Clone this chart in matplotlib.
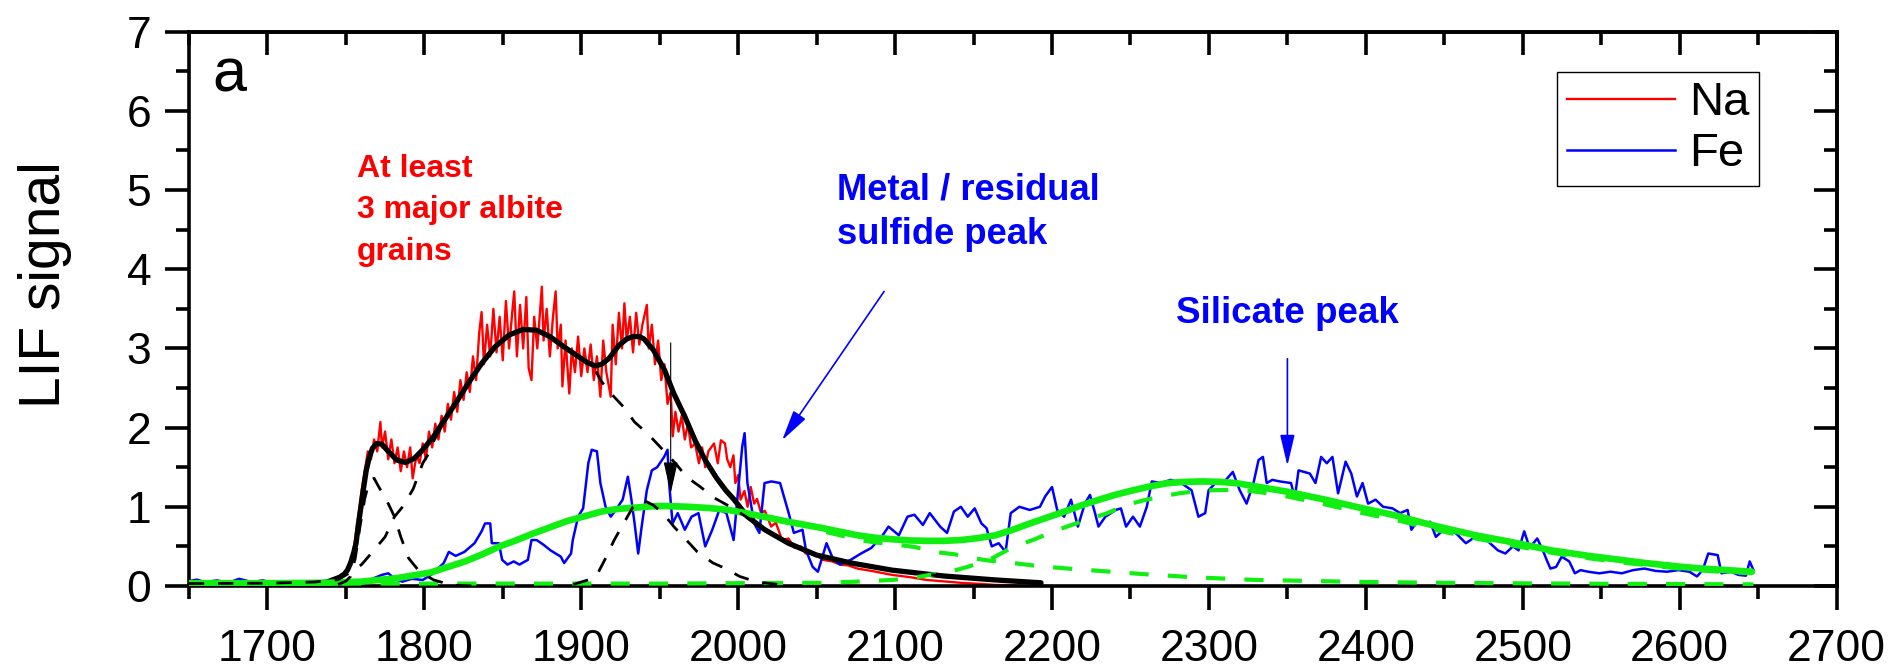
import matplotlib
matplotlib.use("Agg")
import matplotlib.pyplot as plt
from matplotlib.ticker import MultipleLocator

# ── measured traces ────────────────────────────────────────────────────────
na_x = [1650, 1670, 1690, 1710, 1720, 1730, 1738, 1744, 1748, 1751, 1754, 1756, 1758, 1760,
        1762, 1764, 1766, 1768, 1770, 1772, 1773, 1775, 1777, 1779, 1781, 1783, 1785, 1787,
        1789, 1791, 1792.6, 1795, 1797, 1799, 1801, 1803, 1805, 1807, 1809, 1811, 1813, 1815,
        1817, 1819, 1821, 1823, 1825, 1827, 1829, 1831, 1833, 1835, 1836.5, 1838, 1840, 1842,
        1844, 1846, 1848, 1850, 1852, 1854, 1856, 1857.3, 1859, 1861, 1863, 1865, 1866.5,
        1868.3, 1870, 1872, 1874.9, 1876, 1878, 1880, 1882, 1883.7, 1885, 1887, 1888, 1890,
        1892.4, 1894, 1896, 1898, 1900, 1902, 1904, 1906, 1908, 1910, 1912.2, 1914, 1916,
        1918.8, 1920, 1922, 1924, 1926, 1927.5, 1929, 1931, 1933, 1935, 1937, 1939, 1941.8,
        1943, 1945, 1947, 1949, 1951, 1953, 1955, 1957, 1958.3, 1960, 1962, 1964, 1966, 1968,
        1970, 1972.5, 1975, 1977, 1979, 1981, 1984.6, 1987, 1989, 1991.6, 1993, 1995, 1997,
        1998.2, 2000, 2001.5, 2004, 2006, 2008, 2010.2, 2012, 2014.6, 2017, 2021, 2024, 2028,
        2032, 2036, 2040, 2043, 2048, 2054, 2060, 2065, 2070, 2076, 2085, 2098, 2110, 2120,
        2130, 2142, 2155, 2164, 2175, 2186, 2200]
na_y = [0.03, 0.04, 0.03, 0.05, 0.04, 0.06, 0.05, 0.08, 0.12, 0.2, 0.35, 0.6, 0.9, 1.2,
        1.45, 1.7, 1.6, 1.85, 1.7, 2.07, 1.75, 1.95, 1.6, 1.85, 1.55, 1.75, 1.45, 1.7,
        1.5, 1.75, 1.36, 1.65, 1.55, 1.8, 1.6, 1.95, 1.75, 2.05, 1.85, 2.15, 1.95, 2.3,
        2.1, 2.45, 2.2, 2.6, 2.35, 2.7, 2.45, 2.9, 2.6, 3.2, 3.46, 2.8, 3.3, 2.9,
        3.5, 2.95, 3.4, 2.85, 3.6, 3.0, 3.45, 3.72, 2.9, 3.55, 3.0, 3.65, 2.75,
        2.6, 3.4, 3.0, 3.78, 3.1, 3.5, 2.9, 3.4, 3.72, 3.0, 3.3, 2.52, 3.1,
        2.43, 3.0, 2.7, 3.15, 2.65, 3.0, 2.7, 3.05, 2.6, 2.9, 2.39, 3.1, 2.7,
        2.39, 3.3, 2.8, 3.45, 3.0, 3.57, 3.1, 3.4, 2.95, 3.45, 3.05, 3.3, 3.55,
        3.0, 3.3, 2.8, 3.1, 2.6, 2.8, 2.3, 2.45, 1.89, 2.2, 1.95, 2.15, 1.85, 2.05,
        1.75, 1.8, 1.55, 1.75, 1.5, 1.7, 1.8, 1.55, 1.84, 1.8, 1.6, 1.5, 1.65,
        1.3, 1.4, 1.09, 1.2, 1.0, 1.25, 1.04, 1.1, 0.92, 0.95, 0.75, 0.8, 0.58,
        0.6, 0.48, 0.5, 0.41, 0.42, 0.33, 0.31, 0.27, 0.26, 0.22, 0.19, 0.14, 0.11, 0.076,
        0.06, 0.04, 0.025, 0.013, 0.01, 0.0, 0.0]

fe_x = [1650, 1655, 1660, 1668, 1675, 1682, 1690, 1697, 1704, 1710, 1718, 1725, 1732, 1740,
        1748, 1755, 1762, 1768, 1773, 1777, 1782, 1786, 1792, 1799, 1805, 1812.4, 1815.6, 1820,
        1825.5, 1832, 1836.5, 1838.7, 1842, 1843, 1847.5, 1849.6, 1853, 1857, 1860.6, 1866,
        1868.3, 1871.6, 1876, 1880.4, 1887, 1889.1, 1893.5, 1894.6, 1898, 1901.2, 1904.5,
        1906.7, 1910, 1912.2, 1915.5, 1918.8, 1922, 1926.4, 1929.7, 1931.9, 1934, 1936.3,
        1938.5, 1941.8, 1945, 1948.4, 1952.8, 1955, 1956, 1958.2, 1961.5, 1966, 1970.3,
        1974.7, 1979, 1983.5, 1988, 1992.5, 1997.1, 2000.4, 2002.6, 2004.1, 2005.9, 2010.2,
        2013.5, 2016.8, 2021.2, 2026.7, 2032.2, 2035.5, 2041, 2043.2, 2047.5, 2050.8, 2056.3,
        2060.7, 2065, 2071.7, 2078.3, 2084.8, 2091.4, 2095.8, 2102.4, 2107.9, 2112.3, 2117.7,
        2122.1, 2128.7, 2133.1, 2137.5, 2141.9, 2146.3, 2150.7, 2155, 2158.3, 2161.6, 2166,
        2170.4, 2173.7, 2179.2, 2185.8, 2192.3, 2195.6, 2200, 2203.3, 2207.7, 2212.1, 2216.5,
        2220.9, 2224.2, 2227.4, 2229.6, 2234, 2240.6, 2243.9, 2247.2, 2251.6, 2256, 2260.4,
        2263.6, 2269.1, 2275.7, 2282.3, 2288.9, 2293.3, 2297.6, 2299.8, 2304.2, 2310.8,
        2315.2, 2319.6, 2324, 2328.4, 2331.6, 2334.4, 2336.8, 2340.4, 2345.2, 2352.3, 2354.7,
        2357.1, 2364.3, 2367.9, 2371.5, 2375.1, 2378.7, 2382.3, 2387.1, 2390.7, 2394.3,
        2397.9, 2401.4, 2406.2, 2411, 2417, 2421.8, 2426.6, 2429, 2432.6, 2436.2, 2441,
        2444.6, 2450.6, 2457.7, 2463.7, 2469.7, 2476.9, 2484.1, 2488.9, 2493.7, 2497.3,
        2500.9, 2504.4, 2509.2, 2512.8, 2515.2, 2517.6, 2521.2, 2524.8, 2529.6, 2533.2,
        2536.8, 2541.6, 2548.8, 2555.9, 2563.1, 2570.3, 2577.5, 2584.7, 2591.9, 2599.1,
        2606.2, 2611, 2614.6, 2618.2, 2624.2, 2626.6, 2632.6, 2637.4, 2642.2, 2644.6, 2647]
fe_y = [0.06, 0.08, 0.05, 0.07, 0.04, 0.09, 0.05, 0.07, 0.04, 0.06, 0.03, 0.05, 0.02, 0.04,
        0.02, 0.04, 0.05, 0.1, 0.14, 0.16, 0.08, 0.055, 0.09, 0.076, 0.15, 0.29, 0.43, 0.38,
        0.43, 0.54, 0.69, 0.79, 0.79, 0.54, 0.54, 0.33, 0.27, 0.31, 0.27, 0.33,
        0.58, 0.58, 0.52, 0.45, 0.37, 0.29, 0.41, 0.58, 0.875, 0.98, 1.55,
        1.72, 1.70, 1.30, 1.0, 0.875, 0.96, 1.09, 1.38, 1.1, 0.79, 0.41,
        0.75, 1.21, 1.46, 1.5, 1.63, 1.72, 1.30, 0.79, 0.92, 0.71, 0.875,
        0.92, 0.50, 0.71, 0.96, 0.92, 0.58, 1.30, 1.76, 1.93, 1.30, 0.79,
        0.67, 1.30, 1.32, 1.30, 0.92, 0.67, 0.71, 0.45, 0.24, 0.18, 0.54,
        0.33, 0.27, 0.33, 0.41, 0.48, 0.62, 0.75, 0.64, 0.875, 0.90, 0.77,
        0.92, 0.75, 0.67, 0.94, 1.0, 0.875, 0.98, 0.79, 0.73, 0.50, 0.54,
        0.43, 0.92, 1.0, 0.96, 1.0, 1.13, 1.25, 0.96, 0.875, 1.09, 0.75,
        1.04, 1.15, 0.92, 0.75, 0.875, 0.96, 0.98, 0.75, 0.875, 0.75, 1.0,
        1.32, 1.30, 1.34, 1.30, 1.21, 0.875, 0.92, 1.21, 1.30, 1.34,
        1.44, 1.21, 1.04, 1.30, 1.59, 1.63, 1.30, 1.34, 1.32, 1.30, 1.11,
        1.46, 1.42, 1.30, 1.63, 1.55, 1.63, 1.17, 1.57, 1.42, 1.13,
        1.30, 1.04, 1.09, 1.0, 0.98, 0.92, 0.96, 0.71, 0.81, 0.79, 0.81,
        0.62, 0.73, 0.66, 0.54, 0.62, 0.58, 0.45, 0.41, 0.50, 0.45,
        0.69, 0.48, 0.60, 0.45, 0.33, 0.22, 0.24, 0.37, 0.31, 0.16,
        0.20, 0.18, 0.16, 0.18, 0.16, 0.20, 0.22, 0.19, 0.18, 0.20,
        0.18, 0.12, 0.20, 0.41, 0.39, 0.16, 0.18, 0.14, 0.13, 0.31, 0.20]

# ── Na fit: envelope and three component peaks ────────────────────────────
na_fit_x = [1650, 1700, 1730, 1738, 1742, 1746, 1749, 1751, 1753, 1755, 1756.5, 1758, 1759.5,
            1761, 1763, 1765, 1767, 1769.5, 1773, 1777, 1782.5, 1788, 1793.5, 1799, 1806,
            1812, 1820, 1828, 1836.5, 1845, 1854, 1863, 1871.5, 1880, 1889, 1898, 1904,
            1909, 1913, 1918, 1924, 1929, 1933, 1937, 1940, 1946, 1953, 1959, 1966, 1972.5,
            1979, 1986, 1992, 1997, 2006, 2017, 2032, 2050, 2072, 2098, 2131, 2164, 2193]
na_fit_y = [0.03, 0.03, 0.035, 0.05, 0.08, 0.11, 0.15, 0.2, 0.29, 0.42, 0.54, 0.78, 0.98,
            1.2, 1.46, 1.63, 1.74, 1.80, 1.79, 1.70, 1.59, 1.56, 1.61, 1.72, 1.89,
            2.07, 2.31, 2.56, 2.81, 3.02, 3.17, 3.24, 3.23, 3.15, 3.02, 2.90, 2.82,
            2.78, 2.80, 2.88, 3.04, 3.12, 3.15, 3.15, 3.12, 2.98, 2.73, 2.43, 2.14, 1.84,
            1.59, 1.37, 1.21, 1.10, 0.875, 0.71, 0.54, 0.39, 0.29, 0.20, 0.126, 0.076, 0.04]

na_pk1_x = [1745, 1750, 1753, 1756, 1759, 1762, 1765, 1768, 1771, 1774, 1777, 1781, 1785,
            1790, 1797, 1806, 1817, 1830]
na_pk1_y = [0.02, 0.06, 0.12, 0.35, 0.75, 1.1, 1.33, 1.36, 1.25, 1.15, 1.04, 0.875, 0.62,
            0.35, 0.18, 0.076, 0.013, 0.0]

na_pk2_x = [1650, 1700, 1730, 1745, 1752, 1760, 1767, 1775, 1781, 1787, 1793, 1799, 1803,
            1806, 1812, 1820, 1828, 1836.5, 1845, 1854, 1863, 1871.5, 1880, 1889, 1898,
            1907.6, 1913, 1919, 1927, 1934, 1942, 1952, 1960, 1967, 1976, 1985, 1995, 2005,
            2014, 2022, 2032, 2050, 2072, 2098, 2131, 2164, 2193]
na_pk2_y = [0.03, 0.035, 0.05, 0.08, 0.16, 0.27, 0.43, 0.62, 0.875, 1.02, 1.23, 1.55, 1.68,
            1.83, 2.05, 2.31, 2.56, 2.81, 3.02, 3.17, 3.24, 3.23, 3.15, 3.02, 2.90,
            2.77, 2.58, 2.43, 2.26, 2.07, 1.93, 1.72, 1.55, 1.38, 1.25, 1.11, 1.0, 0.875,
            0.75, 0.66, 0.54, 0.39, 0.29, 0.20, 0.126, 0.076, 0.04]

na_pk3_x = [1895, 1905, 1910, 1915, 1921, 1927, 1933, 1940, 1946, 1952, 1959, 1967, 1974,
            1984, 1992, 2001, 2012, 2025]
na_pk3_y = [0.02, 0.08, 0.14, 0.33, 0.58, 0.79, 1.0, 1.08, 1.02, 0.92, 0.75, 0.58, 0.43,
            0.29, 0.22, 0.12, 0.05, 0.02]

# ── Fe fit: envelope, metal peak and silicate peak ─────────────────────────
fe_fit_x = [1650, 1694, 1738, 1760, 1782, 1804, 1815, 1826, 1837, 1848, 1859, 1869, 1880,
            1891, 1902, 1913, 1924, 1935, 1944, 1953, 1968, 1981, 1994, 2010, 2021, 2032,
            2043, 2054, 2065, 2076, 2087, 2098, 2109, 2120, 2131, 2142, 2153, 2164, 2175,
            2186, 2197, 2208, 2219, 2230, 2241, 2252, 2263, 2274, 2285, 2296, 2307, 2317,
            2326, 2338, 2350, 2362, 2374, 2386, 2398, 2410, 2422, 2434, 2446, 2458, 2470,
            2482, 2494, 2506, 2518, 2530, 2542, 2554, 2566, 2578, 2590, 2602, 2614, 2630, 2646]
fe_fit_y = [0.034, 0.034, 0.04, 0.055, 0.097, 0.17, 0.24, 0.31, 0.40, 0.50, 0.58, 0.66, 0.74,
            0.82, 0.88, 0.94, 0.975, 0.99, 1.005, 1.01, 1.0, 0.985, 0.96, 0.90, 0.855, 0.81,
            0.77, 0.73, 0.685, 0.64, 0.61, 0.59, 0.575, 0.57, 0.57, 0.58, 0.605, 0.64, 0.71,
            0.79, 0.865, 0.94, 1.02, 1.09, 1.155, 1.21, 1.26, 1.30, 1.315, 1.32, 1.315, 1.30,
            1.27, 1.23, 1.19, 1.14, 1.09, 1.035, 0.98, 0.93, 0.875, 0.81, 0.75, 0.695, 0.64,
            0.595, 0.55, 0.50, 0.45, 0.415, 0.38, 0.35, 0.32, 0.29, 0.265, 0.24, 0.22, 0.20, 0.18]

fe_pk1_x = [1650, 1694, 1738, 1760, 1782, 1804, 1826, 1848, 1869, 1891, 1913, 1935, 1953,
            1968, 1994, 2010, 2032, 2043, 2054, 2065, 2076, 2087, 2102, 2113, 2125, 2138,
            2150, 2160, 2175, 2192, 2210, 2234, 2258, 2290, 2330, 2355, 2400, 2450, 2500,
            2550, 2600, 2647]
fe_pk1_y = [0.034, 0.034, 0.04, 0.055, 0.097, 0.17, 0.31, 0.50, 0.66, 0.82, 0.94, 0.99, 1.01,
            1.0, 0.96, 0.90, 0.81, 0.76, 0.69, 0.64, 0.585, 0.55, 0.52, 0.49, 0.43, 0.40,
            0.35, 0.32, 0.29, 0.25, 0.22, 0.185, 0.15, 0.11, 0.076, 0.067, 0.05, 0.04, 0.033,
            0.028, 0.024, 0.02]

fe_pk2_x = [1650, 1800, 1950, 2000, 2054, 2076, 2098, 2111, 2122, 2135, 2146, 2160, 2174,
            2189, 2201, 2211, 2224, 2234, 2247, 2258, 2270, 2281, 2293, 2304, 2316, 2326,
            2338, 2350, 2362, 2374, 2386, 2398, 2410, 2422, 2434, 2446, 2458, 2470, 2482,
            2494, 2506, 2518, 2530, 2542, 2554, 2566, 2578, 2590, 2602, 2614, 2630, 2646]
fe_pk2_y = [0.03, 0.03, 0.03, 0.035, 0.04, 0.055, 0.076, 0.10, 0.14, 0.18, 0.24, 0.33, 0.48,
            0.59, 0.69, 0.76, 0.85, 0.91, 1.02, 1.08, 1.13, 1.17, 1.20, 1.21, 1.215, 1.20,
            1.17, 1.13, 1.08, 1.03, 0.975, 0.92, 0.87, 0.82, 0.76, 0.70, 0.65, 0.60, 0.555,
            0.51, 0.465, 0.42, 0.385, 0.35, 0.32, 0.29, 0.265, 0.24, 0.215, 0.195, 0.175, 0.16]

RED, BLUE, GREEN = "#ff0000", "#0000ff", "#11ee11"
FONT = ["Liberation Sans", "DejaVu Sans"]

plt.rcParams.update({"font.family": FONT, "axes.linewidth": 2.6})

fig = plt.figure(figsize=(18.95, 6.68), dpi=100)
ax = fig.add_axes([0.0997, 0.1228, 0.8695, 0.8297])

ax.plot(na_x, na_y, color=RED, lw=1.7, zorder=2, label="Na")
ax.plot(fe_x, fe_y, color=BLUE, lw=1.8, zorder=3, label="Fe")
ax.plot(na_fit_x, na_fit_y, color="black", lw=3.8, zorder=4, solid_capstyle="round")
ax.plot(fe_fit_x, fe_fit_y, color=GREEN, lw=4.8, zorder=5, solid_capstyle="round")
for px, py in [(fe_pk1_x, fe_pk1_y), (fe_pk2_x, fe_pk2_y)]:
    ax.plot(px, py, color=GREEN, lw=3, dashes=(4.6, 4.6), zorder=6)
for px, py in [(na_pk1_x, na_pk1_y), (na_pk2_x, na_pk2_y), (na_pk3_x, na_pk3_y)]:
    ax.plot(px, py, color="black", lw=2, dashes=(5.5, 5), zorder=7)

ax.set_xlim(1650, 2700)
ax.set_ylim(0, 7)
ax.xaxis.set_major_locator(MultipleLocator(100))
ax.xaxis.set_minor_locator(MultipleLocator(50))
ax.yaxis.set_major_locator(MultipleLocator(1))
ax.yaxis.set_minor_locator(MultipleLocator(0.5))
ax.tick_params(which="both", direction="out", width=2.6, labelsize=32)
ax.tick_params(axis="x", which="both", pad=14)
ax.tick_params(axis="y", which="both", pad=10)
ax.tick_params(which="major", length=17)
ax.tick_params(which="minor", length=9.4)
ax.set_ylabel("LIF signal", fontsize=41)
ax.yaxis.set_label_coords(-0.071, 0.543)

# mirrored axes on top and right, ticks pointing inward
top = ax.secondary_xaxis("top")
top.xaxis.set_major_locator(MultipleLocator(100))
top.xaxis.set_minor_locator(MultipleLocator(50))
top.tick_params(which="both", direction="in", width=2.6, labeltop=False)
top.tick_params(which="major", length=16.5)
top.tick_params(which="minor", length=9.4)
right = ax.secondary_yaxis("right")
right.yaxis.set_major_locator(MultipleLocator(1))
right.yaxis.set_minor_locator(MultipleLocator(0.5))
right.tick_params(which="both", direction="in", width=2.6, labelright=False)
right.tick_params(which="major", length=16.5)
right.tick_params(which="minor", length=9.4)

ax.text(1665, 6.25, "a", fontsize=44, va="baseline")
ax.text(1757, 5.46, "At least\n3 major albite\ngrains", color=RED, fontsize=23,
        fontweight="bold", va="top", linespacing=1.5)
ax.text(2063, 5.22, "Metal / residual\nsulfide peak", color=BLUE, fontsize=26.2,
        fontweight="bold", va="top", linespacing=1.35)
ax.text(2279, 3.66, "Silicate peak", color=BLUE, fontsize=26.5, fontweight="bold", va="top")

ax.annotate("", xy=(2028, 1.84), xytext=(2093, 3.72),
            arrowprops=dict(arrowstyle="-|>,head_length=1.9,head_width=0.45",
                            mutation_scale=10, color=BLUE, lw=1.2, shrinkA=0, shrinkB=0),
            zorder=8)
ax.annotate("", xy=(2350, 1.52), xytext=(2350, 2.87),
            arrowprops=dict(arrowstyle="-|>,head_length=1.9,head_width=0.45",
                            mutation_scale=10, color=BLUE, lw=1.2, shrinkA=0, shrinkB=0),
            zorder=8)
ax.annotate("", xy=(1957, 1.17), xytext=(1957, 3.07),
            arrowprops=dict(arrowstyle="-|>,head_length=2.0,head_width=0.45",
                            mutation_scale=10, color="black", lw=0.8, shrinkA=0, shrinkB=0),
            zorder=8)

leg = ax.legend(loc="upper right", bbox_to_anchor=(0.953, 0.928), borderaxespad=0,
                fontsize=34, handlelength=2.3, handletextpad=0.3, labelspacing=0.15,
                borderpad=0.2, fancybox=False, framealpha=1, edgecolor="black")
leg.get_frame().set_linewidth(1.0)

fig.savefig("out.png", dpi=100)
